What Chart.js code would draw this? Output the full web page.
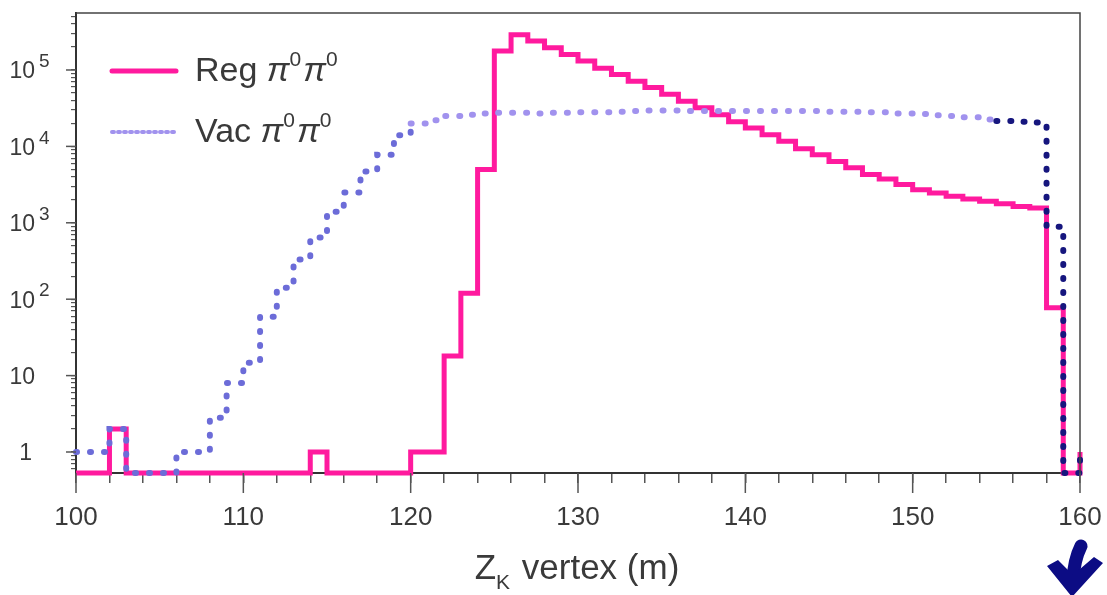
<!DOCTYPE html>
<html>
<head>
<meta charset="utf-8">
<script src="https://cdn.jsdelivr.net/npm/chart.js@4.4.1/dist/chart.umd.min.js"></script>
<style>
  html, body { margin: 0; padding: 0; background: #fff; }
</style>
</head>
<body>
<canvas id="zChart" width="1107" height="595"></canvas>
<script>
// bin left edges (m), 1 m wide; the 160 bin only shows its left edge
const binStart = [100, 101, 102, 103, 104, 105, 106, 107, 108, 109,
  110, 111, 112, 113, 114, 115, 116, 117, 118, 119,
  120, 121, 122, 123, 124, 125, 126, 127, 128, 129,
  130, 131, 132, 133, 134, 135, 136, 137, 138, 139,
  140, 141, 142, 143, 144, 145, 146, 147, 148, 149,
  150, 151, 152, 153, 154, 155, 156, 157, 158, 159, 160];

// Reg pi0pi0 counts per bin
const regCounts = [0, 0, 2, 0, 0, 0, 0, 0, 0, 0,
  0, 0, 0, 0, 1, 0, 0, 0, 0, 0,
  1, 1, 18, 120, 5000, 177000, 290000, 240000, 195000, 159000,
  131000, 105000, 87000, 71000, 59000, 48000, 39000, 32000, 26000, 21000,
  17400, 14200, 11700, 9300, 7800, 6350, 5250, 4270, 3740, 3160,
  2700, 2450, 2220, 2050, 1910, 1780, 1640, 1560, 77, 0, 1];

// Vac pi0pi0 counts per bin
const vacCounts = [1, 1, 2, 0, 0, 0, 1, 1, 2.8, 8,
  14.7, 59, 141, 330, 640, 1400, 2500, 4700, 7800, 14000,
  20000, 22000, 25000, 26000, 27000, 27500, 27500, 27000, 27500, 27500,
  28000, 28000, 28500, 29000, 29500, 29500, 29000, 29000, 29000, 29000,
  29000, 29000, 29000, 29000, 29000, 28500, 28500, 28000, 28000, 27000,
  26500, 25500, 25000, 24000, 22500, 21500, 21000, 20500, 890, 0, 1];

const xMajorTicks = [100, 110, 120, 130, 140, 150, 160];
const yMajorTicks = [1, 10, 100, 1000, 10000, 100000];
const yTickBases = ['1', '10', '10', '10', '10', '10'];
const yTickExps = ['', '', '2', '3', '4', '5'];

const Y_MIN = 0.531, Y_MAX = 5.57e5;
const FONT = "'Liberation Sans', Arial, sans-serif";
const TXT = '#3a3a3a';
const PINK = '#ff1a9e';

// empty bins sit on the bottom of the axis
function toPoints(counts) {
  return binStart.map((x, i) => ({ x: x, y: counts[i] > 0 ? counts[i] : Y_MIN }));
}

function vacColor(x) {
  if (x >= 155) return '#16167e';
  if (x < 120) return '#6c6cd8';
  return '#a192ee';
}

// draws runs of text, some raised or lowered; returns the width
function drawRuns(ctx, x, y, runs, measureOnly) {
  let cx = x;
  runs.forEach(r => {
    ctx.font = (r.style || '') + ' ' + r.size + 'px ' + FONT;
    if (!measureOnly) ctx.fillText(r.t, cx, y + (r.dy || 0));
    cx += ctx.measureText(r.t).width + (r.gap || 0);
  });
  return cx - x;
}

const decor = {
  id: 'decor',
  afterDraw(chart) {
    const ctx = chart.ctx;
    const a = chart.chartArea;
    const xs = chart.scales.x, ys = chart.scales.y;
    ctx.save();

    // top and right frame
    ctx.strokeStyle = '#444';
    ctx.lineWidth = 1.5;
    ctx.beginPath();
    ctx.moveTo(a.left, a.top);
    ctx.lineTo(a.right, a.top);
    ctx.lineTo(a.right, a.bottom);
    ctx.stroke();

    // longer major ticks
    ctx.strokeStyle = '#555';
    ctx.lineWidth = 1.5;
    xMajorTicks.forEach(v => {
      const px = xs.getPixelForValue(v);
      ctx.beginPath();
      ctx.moveTo(px, a.bottom);
      ctx.lineTo(px, a.bottom + 20);
      ctx.stroke();
    });
    yMajorTicks.forEach(v => {
      const py = ys.getPixelForValue(v);
      ctx.beginPath();
      ctx.moveTo(a.left - 10, py);
      ctx.lineTo(a.left, py);
      ctx.stroke();
    });

    // y labels with exponents
    ctx.fillStyle = TXT;
    ctx.textBaseline = 'middle';
    yMajorTicks.forEach((v, i) => {
      const py = ys.getPixelForValue(v);
      ctx.font = '23px ' + FONT;
      ctx.textAlign = 'right';
      ctx.fillText(yTickBases[i], i === 0 ? 32 : 35, py + 2);
      if (yTickExps[i]) {
        ctx.font = '19px ' + FONT;
        ctx.textAlign = 'left';
        ctx.fillText(yTickExps[i], 39, py - 8);
      }
    });

    // legend
    ctx.textAlign = 'left';
    ctx.lineCap = 'round';
    ctx.strokeStyle = PINK;
    ctx.lineWidth = 5;
    ctx.beginPath();
    ctx.moveTo(112, 71);
    ctx.lineTo(176, 71);
    ctx.stroke();
    ctx.strokeStyle = '#a192ee';
    ctx.lineWidth = 4;
    ctx.setLineDash([2, 4]);
    ctx.beginPath();
    ctx.moveTo(112, 132);
    ctx.lineTo(177, 132);
    ctx.stroke();
    ctx.setLineDash([]);

    const pipi = [
      { t: 'π', size: 34, style: 'italic' },
      { t: '0', size: 21, dy: -12, gap: 2 },
      { t: 'π', size: 34, style: 'italic' },
      { t: '0', size: 21, dy: -12 }
    ];
    ctx.fillStyle = TXT;
    drawRuns(ctx, 195, 72, [{ t: 'Reg ', size: 34 }].concat(pipi));
    drawRuns(ctx, 195, 133, [{ t: 'Vac ', size: 34 }].concat(pipi));

    // x title with subscript
    ctx.textBaseline = 'alphabetic';
    const title = [
      { t: 'Z', size: 35 },
      { t: 'K', size: 21, dy: 10, gap: 2 },
      { t: ' vertex (m)', size: 35 }
    ];
    const w = drawRuns(ctx, 0, 0, title, true);
    drawRuns(ctx, 577 - w / 2, 579, title);

    // hand-drawn arrow below 160
    ctx.strokeStyle = '#0c0c84';
    ctx.fillStyle = '#0c0c84';
    ctx.lineWidth = 13;
    ctx.lineCap = 'round';
    ctx.beginPath();
    ctx.moveTo(1081, 546);
    ctx.quadraticCurveTo(1074, 560, 1073, 580);
    ctx.stroke();
    ctx.beginPath();
    ctx.moveTo(1047, 566);
    ctx.lineTo(1058, 560);
    ctx.lineTo(1073, 575);
    ctx.lineTo(1094, 557);
    ctx.lineTo(1103, 563);
    ctx.lineTo(1072, 597);
    ctx.closePath();
    ctx.fill();

    ctx.restore();
  }
};

const yMinorTicks = [];
[0.1, 1, 10, 100, 1000, 10000, 100000].forEach(d => {
  for (let k = 2; k <= 9; k++) {
    const v = d * k;
    if (v >= Y_MIN && v <= Y_MAX) yMinorTicks.push(v);
  }
});

const ctx = document.getElementById('zChart').getContext('2d');
const zChart = new Chart(ctx, {
  type: 'line',
  data: {
    datasets: [
      {
        label: 'Vac π0π0',
        data: toPoints(vacCounts),
        stepped: 'before',
        borderColor: '#a192ee',
        segment: { borderColor: c => vacColor(c.p0.parsed.x) },
        borderWidth: 6,
        borderDash: [1, 13],
        borderCapStyle: 'round',
        pointRadius: 0,
        fill: false,
        clip: 8,
        order: 0
      },
      {
        label: 'Reg π0π0',
        data: toPoints(regCounts),
        stepped: 'before',
        borderColor: PINK,
        borderWidth: 5,
        borderJoinStyle: 'miter',
        pointRadius: 0,
        fill: false,
        clip: 8,
        order: 1
      }
    ]
  },
  plugins: [decor],
  options: {
    responsive: false,
    animation: false,
    events: [],
    layout: { padding: { top: 13, right: 27, left: 0, bottom: 0 } },
    plugins: {
      legend: { display: false },
      tooltip: { enabled: false }
    },
    scales: {
      x: {
        type: 'linear',
        min: 100,
        max: 160,
        afterFit: s => { s.height = 122; s.paddingLeft = 0; s.paddingRight = 0; },
        ticks: {
          stepSize: 2,
          autoSkip: false,
          maxRotation: 0,
          padding: 19,
          color: TXT,
          font: { family: FONT, size: 26 },
          callback: v => (v % 10 === 0 ? String(v) : '')
        },
        grid: { drawOnChartArea: false, tickLength: 10, color: '#555', lineWidth: 1.5 },
        border: { color: '#333', width: 2 }
      },
      y: {
        type: 'logarithmic',
        min: Y_MIN,
        max: Y_MAX,
        bounds: 'data',
        afterFit: s => { s.width = 76; },
        afterBuildTicks: s => {
          s.ticks = yMajorTicks.concat(yMinorTicks).sort((p, q) => p - q).map(v => ({ value: v }));
        },
        ticks: { display: false },
        grid: { drawOnChartArea: false, tickLength: 5, color: '#555', lineWidth: 1.2 },
        border: { color: '#333', width: 2 }
      }
    }
  }
});
</script>
</body>
</html>
